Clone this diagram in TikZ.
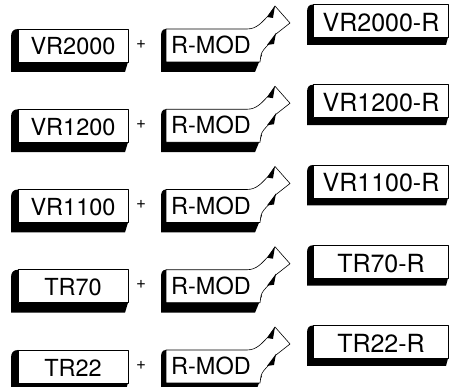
\documentclass[tikz,border=0pt]{standalone}
\usepackage{fontspec}
\setmainfont{TeX Gyre Heros}
\begin{document}
\begin{tikzpicture}[x=1pt,y=-1pt,
  shade3d/.style={fill=black},
  face/.style={fill=white,draw=black,line width=0.6pt,line join=round},
  lbl/.style={inner sep=0pt,font=\fontsize{23.5}{24}\selectfont},
  rlbl/.style={inner sep=0pt,font=\fontsize{25}{26}\selectfont},
  plus/.style={inner sep=0pt,font=\fontsize{17}{17}\selectfont}]
\useasboundingbox (0,0) rectangle (451,387);
\foreach \i/\lab/\rlab in {0/VR2000/VR2000-R,1/VR1200/VR1200-R,2/VR1100/VR1100-R,3/TR70/TR70-R,4/TR22/TR22-R}{
  \pgfmathsetmacro{\cy}{46+80.25*\i}
  \begin{scope}[shift={(0,\cy)}]
    % left box
    \fill[shade3d] (18,-17) .. controls (13,-17) and (11,-14) .. (11,-9) -- (11,26) -- (125,26) -- (128,16) -- cycle;
    \draw[face] (18,-17) rectangle (128,16);
    \node[lbl] (L\i) at (73,0.5) {\lab};
    \node[plus] (P\i) at (141,-2) {+};
    % R-MOD arrow
    \fill[shade3d] (166,-17) .. controls (162,-17) and (161,-14) .. (161,-9) -- (161,26) -- (255,26) -- (262,9) -- (250,0) -- cycle;
    \draw[face] (166,-17) -- (247,-17) .. controls (257,-17) and (262,-24) .. (268,-30) -- (275,-40) -- (290,-23) -- (276,-12) -- (269,-2) .. controls (265,2) and (262,5) .. (261,9) -- (260,16) -- (166,16) -- cycle;
    \fill[shade3d] (267,-29) -- (275,-40) -- (273,-28) -- cycle;
    \fill[shade3d] (276,-13) -- (267,-1) -- (274,-2) -- cycle;
    \node[lbl] (M\i) at (211,-1) {R-MOD};
    % right box
    \fill[shade3d] (313,-41.5) .. controls (309,-41.5) and (307,-39) .. (307,-34) -- (307,-1) -- (446,-1) -- (448,-8.5) -- cycle;
    \draw[face] (313,-41.5) rectangle (448,-8.5);
    \node[rlbl] (R\i) at (381,-23.5) {\rlab};
  \end{scope}
}
\end{tikzpicture}
\end{document}
